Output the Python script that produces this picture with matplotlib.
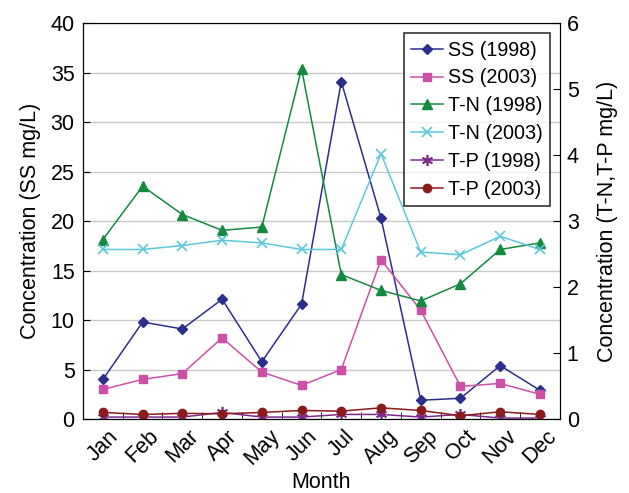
import matplotlib as mpl
mpl.use('Agg')
import matplotlib.pyplot as plt
from matplotlib.ticker import MultipleLocator, FixedLocator

plt.rcParams['font.family'] = ['Liberation Sans', 'DejaVu Sans']

months = ['Jan', 'Feb', 'Mar', 'Apr', 'May', 'Jun', 'Jul', 'Aug', 'Sep', 'Oct', 'Nov', 'Dec']
ss_1998 = [4.0, 9.8, 9.1, 12.1, 5.8, 11.6, 34.1, 20.3, 1.9, 2.1, 5.4, 2.9]
ss_2003 = [3.0, 4.0, 4.6, 8.2, 4.75, 3.4, 5.0, 16.1, 11.0, 3.3, 3.6, 2.5]
tn_1998 = [2.72, 3.53, 3.10, 2.86, 2.91, 5.31, 2.19, 1.95, 1.79, 2.05, 2.57, 2.67]
tn_2003 = [2.57, 2.57, 2.63, 2.71, 2.67, 2.57, 2.57, 4.02, 2.53, 2.49, 2.77, 2.57]
tp_1998 = [0.03, 0.03, 0.03, 0.10, 0.03, 0.03, 0.07, 0.07, 0.03, 0.07, 0.015, 0.015]
tp_2003 = [0.10, 0.07, 0.086, 0.08, 0.10, 0.13, 0.12, 0.17, 0.13, 0.05, 0.11, 0.07]

x = list(range(len(months)))

fig = plt.figure(figsize=(6.29, 4.93), dpi=100)
ax = fig.add_axes([0.132, 0.150, 0.758, 0.803])
ax2 = ax.twinx()

ax.set_ylim(0, 40)
ax.yaxis.set_major_locator(MultipleLocator(5))
ax2.set_ylim(0, 6)
ax2.yaxis.set_major_locator(MultipleLocator(1))
ax.set_xlim(-0.5, 11.5)
ax.grid(axis='y', color='#c8c8c8', linewidth=1)
ax.set_axisbelow(True)

l1, = ax.plot(x, ss_1998, color='#2b2f8c', marker='D', ms=5, lw=1.1, label='SS (1998)')
l2, = ax.plot(x, ss_2003, color='#cc4fa8', marker='s', ms=6, lw=1.1, label='SS (2003)')
l3, = ax2.plot(x, tn_1998, color='#138a3e', marker='^', ms=7, lw=1.1, label='T-N (1998)')
l4, = ax2.plot(x, tn_2003, color='#5bc8dc', marker='x', ms=7, mew=1.2, lw=1.1, label='T-N (2003)')
l5, = ax2.plot(x, tp_1998, color='#7b2a8c', marker=(6, 2, 0), ms=8, mew=1.2, lw=1.1, label='T-P (1998)')
l6, = ax2.plot(x, tp_2003, color='#8b1a1a', marker='o', ms=6, lw=1.1, label='T-P (2003)')

ax.set_xticks(x)
ax.set_xticklabels(months, rotation=45, fontsize=15.5)
ax.xaxis.set_minor_locator(FixedLocator([i - 0.5 for i in range(13)]))
ax.tick_params(axis='x', which='major', length=0, pad=5)
ax.tick_params(axis='x', which='minor', length=5, direction='in')
ax.tick_params(axis='y', labelsize=15.5, direction='in', length=5, pad=6)
ax2.tick_params(axis='y', labelsize=15.5, direction='in', length=5, pad=5)

ax.set_xlabel('Month', fontsize=15.5, labelpad=2)
ax.set_ylabel('Concentration (SS mg/L)', fontsize=15.5, labelpad=7)
ax2.set_ylabel('Concentration (T-N,T-P mg/L)', fontsize=15.5, labelpad=13)

leg = ax2.legend(handles=[l1, l2, l3, l4, l5, l6], loc='upper right',
                 bbox_to_anchor=(0.979, 0.975), borderaxespad=0, fontsize=14.2,
                 frameon=True, fancybox=False, edgecolor='black',
                 handlelength=1.6, handletextpad=0.25, borderpad=0.38,
                 labelspacing=0.45)
leg.get_frame().set_linewidth(1.2)

plt.savefig('out.png', dpi=100)
